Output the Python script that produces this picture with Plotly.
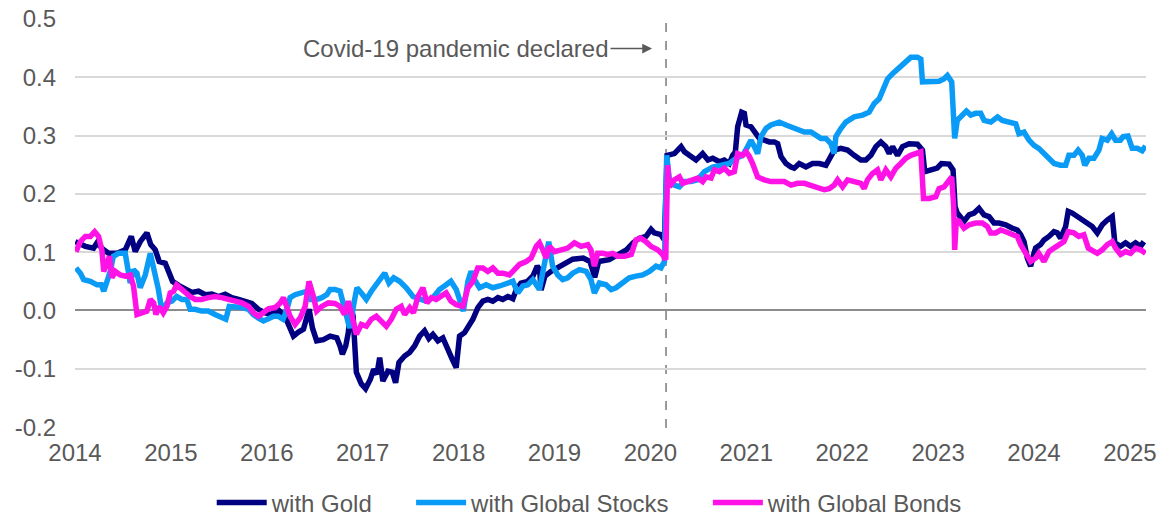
import plotly.graph_objects as go

# ---- data (decimal years, correlation values) ----
gold_x = [2014.003,2014.108,2014.194,2014.229,2014.299,2014.351,2014.438,2014.524,2014.587,2014.628,2014.680,2014.750,2014.790,2014.837,2014.878,2014.941,2014.983,2015.017,2015.080,2015.149,2015.219,2015.288,2015.358,2015.427,2015.497,2015.566,2015.635,2015.705,2015.774,2015.844,2015.913,2015.983,2016.052,2016.120,2016.190,2016.243,2016.278,2016.330,2016.382,2016.441,2016.476,2016.520,2016.590,2016.660,2016.730,2016.764,2016.788,2016.823,2016.850,2016.878,2016.900,2016.934,2016.986,2017.030,2017.080,2017.114,2017.149,2017.177,2017.210,2017.263,2017.309,2017.343,2017.378,2017.437,2017.489,2017.541,2017.593,2017.645,2017.690,2017.732,2017.784,2017.836,2017.888,2017.934,2017.975,2018.010,2018.062,2018.097,2018.149,2018.201,2018.253,2018.305,2018.357,2018.410,2018.460,2018.513,2018.566,2018.600,2018.650,2018.720,2018.775,2018.820,2018.845,2018.860,2018.900,2018.965,2019.050,2019.120,2019.190,2019.300,2019.370,2019.420,2019.460,2019.570,2019.680,2019.750,2019.820,2019.885,2019.955,2020.007,2020.040,2020.110,2020.146,2020.174,2020.250,2020.320,2020.355,2020.410,2020.476,2020.545,2020.600,2020.650,2020.720,2020.770,2020.823,2020.858,2020.886,2020.910,2020.952,2020.980,2020.997,2021.049,2021.084,2021.136,2021.188,2021.240,2021.292,2021.327,2021.362,2021.414,2021.466,2021.500,2021.552,2021.622,2021.691,2021.761,2021.830,2021.865,2021.917,2021.986,2022.056,2022.125,2022.195,2022.247,2022.299,2022.351,2022.403,2022.455,2022.490,2022.525,2022.577,2022.629,2022.698,2022.785,2022.837,2022.861,2022.924,2022.990,2023.035,2023.115,2023.156,2023.177,2023.200,2023.236,2023.270,2023.323,2023.375,2023.427,2023.479,2023.531,2023.583,2023.635,2023.705,2023.774,2023.826,2023.861,2023.896,2023.930,2023.965,2024.000,2024.017,2024.069,2024.104,2024.156,2024.208,2024.243,2024.278,2024.330,2024.357,2024.399,2024.451,2024.503,2024.555,2024.607,2024.660,2024.712,2024.764,2024.816,2024.843,2024.903,2024.955,2025.007,2025.059,2025.111,2025.146]
gold_y = [0.118,0.110,0.107,0.116,0.104,0.098,0.098,0.104,0.127,0.101,0.118,0.133,0.113,0.104,0.084,0.081,0.064,0.050,0.043,0.036,0.031,0.033,0.027,0.028,0.024,0.028,0.022,0.019,0.016,0.012,0.002,-0.004,-0.007,0.001,-0.010,-0.030,-0.044,-0.037,-0.032,0.002,-0.030,-0.052,-0.050,-0.044,-0.047,-0.061,-0.075,-0.061,-0.038,0.008,-0.010,-0.106,-0.126,-0.134,-0.118,-0.101,-0.109,-0.081,-0.121,-0.104,-0.106,-0.124,-0.089,-0.078,-0.072,-0.061,-0.044,-0.035,-0.048,-0.041,-0.052,-0.047,-0.064,-0.084,-0.098,-0.044,-0.038,-0.030,-0.015,0.005,0.016,0.019,0.016,0.022,0.019,0.024,0.020,0.035,0.047,0.050,0.059,0.076,0.070,0.035,0.059,0.067,0.075,0.084,0.088,0.090,0.084,0.057,0.084,0.087,0.096,0.104,0.116,0.124,0.127,0.139,0.133,0.130,0.121,0.266,0.269,0.281,0.272,0.266,0.258,0.269,0.258,0.261,0.255,0.258,0.252,0.266,0.272,0.315,0.340,0.338,0.318,0.315,0.306,0.295,0.292,0.289,0.289,0.286,0.264,0.252,0.246,0.244,0.252,0.246,0.252,0.252,0.249,0.261,0.275,0.278,0.275,0.266,0.258,0.258,0.266,0.281,0.289,0.281,0.269,0.281,0.266,0.281,0.286,0.285,0.275,0.238,0.240,0.244,0.252,0.251,0.241,0.178,0.167,0.161,0.153,0.164,0.167,0.175,0.164,0.161,0.150,0.150,0.147,0.141,0.138,0.130,0.118,0.090,0.076,0.098,0.107,0.113,0.121,0.127,0.135,0.133,0.124,0.144,0.170,0.167,0.161,0.155,0.150,0.144,0.133,0.147,0.155,0.161,0.116,0.110,0.116,0.110,0.116,0.110,0.118]

stocks_x = [2014.010,2014.056,2014.090,2014.160,2014.230,2014.274,2014.300,2014.333,2014.368,2014.400,2014.455,2014.524,2014.576,2014.610,2014.646,2014.680,2014.733,2014.785,2014.830,2014.870,2014.906,2014.958,2015.010,2015.060,2015.115,2015.167,2015.200,2015.250,2015.320,2015.390,2015.460,2015.530,2015.573,2015.608,2015.670,2015.740,2015.810,2015.860,2015.913,2015.965,2016.017,2016.070,2016.120,2016.170,2016.210,2016.243,2016.295,2016.365,2016.417,2016.460,2016.520,2016.573,2016.625,2016.660,2016.710,2016.764,2016.800,2016.864,2016.916,2016.940,2016.986,2017.038,2017.090,2017.142,2017.194,2017.229,2017.274,2017.323,2017.385,2017.454,2017.524,2017.593,2017.663,2017.732,2017.800,2017.871,2017.920,2017.975,2018.010,2018.050,2018.097,2018.130,2018.166,2018.218,2018.288,2018.357,2018.427,2018.496,2018.566,2018.618,2018.670,2018.722,2018.774,2018.843,2018.895,2018.940,2018.980,2019.034,2019.086,2019.138,2019.190,2019.260,2019.330,2019.380,2019.416,2019.468,2019.538,2019.590,2019.642,2019.710,2019.780,2019.850,2019.920,2019.990,2020.059,2020.110,2020.146,2020.170,2020.198,2020.250,2020.302,2020.354,2020.424,2020.493,2020.563,2020.650,2020.736,2020.823,2020.893,2020.962,2021.014,2021.049,2021.084,2021.118,2021.153,2021.205,2021.257,2021.344,2021.414,2021.466,2021.535,2021.605,2021.674,2021.743,2021.778,2021.830,2021.882,2021.917,2021.934,2021.986,2022.038,2022.125,2022.212,2022.281,2022.334,2022.386,2022.438,2022.473,2022.525,2022.594,2022.663,2022.715,2022.785,2022.820,2022.837,2022.906,2023.010,2023.060,2023.097,2023.142,2023.156,2023.173,2023.200,2023.253,2023.295,2023.340,2023.392,2023.444,2023.480,2023.550,2023.620,2023.670,2023.740,2023.810,2023.843,2023.896,2023.948,2024.000,2024.050,2024.104,2024.156,2024.210,2024.277,2024.330,2024.364,2024.416,2024.460,2024.503,2024.530,2024.573,2024.625,2024.677,2024.710,2024.764,2024.810,2024.850,2024.900,2024.930,2024.980,2025.024,2025.076,2025.128,2025.163]
stocks_y = [0.073,0.064,0.053,0.050,0.044,0.044,0.033,0.047,0.067,0.093,0.098,0.098,0.047,0.070,0.064,0.039,0.061,0.098,0.070,0.036,-0.001,0.013,0.016,0.024,0.019,0.019,0.002,0.002,-0.001,-0.001,-0.007,-0.013,-0.015,0.007,0.007,0.005,0.002,-0.007,-0.013,-0.018,-0.014,-0.010,-0.010,-0.015,0.002,0.022,0.027,0.030,0.033,0.019,0.019,0.022,0.027,0.036,0.036,0.033,0.007,-0.030,0.019,0.039,0.030,0.019,0.033,0.044,0.053,0.064,0.047,0.056,0.050,0.039,0.024,0.019,0.016,0.022,0.036,0.044,0.050,0.036,0.019,-0.001,0.050,0.067,0.053,0.039,0.044,0.039,0.042,0.047,0.050,0.030,0.042,0.044,0.053,0.036,0.076,0.118,0.076,0.061,0.053,0.056,0.064,0.070,0.067,0.053,0.030,0.047,0.044,0.036,0.039,0.047,0.056,0.059,0.061,0.067,0.076,0.073,0.084,0.266,0.224,0.215,0.212,0.221,0.221,0.224,0.238,0.246,0.249,0.252,0.261,0.266,0.281,0.292,0.281,0.269,0.298,0.312,0.318,0.323,0.318,0.315,0.312,0.306,0.306,0.300,0.295,0.295,0.286,0.269,0.298,0.312,0.323,0.332,0.335,0.340,0.355,0.363,0.386,0.397,0.406,0.417,0.426,0.434,0.434,0.431,0.392,0.392,0.393,0.397,0.403,0.392,0.349,0.295,0.326,0.335,0.342,0.335,0.338,0.338,0.326,0.323,0.332,0.326,0.323,0.320,0.303,0.306,0.292,0.283,0.278,0.269,0.258,0.252,0.249,0.249,0.266,0.266,0.275,0.266,0.249,0.261,0.261,0.275,0.295,0.292,0.303,0.292,0.292,0.298,0.299,0.278,0.278,0.274,0.282]

bonds_x = [2014.010,2014.056,2014.108,2014.160,2014.205,2014.246,2014.280,2014.300,2014.333,2014.360,2014.385,2014.420,2014.472,2014.524,2014.576,2014.610,2014.646,2014.700,2014.750,2014.785,2014.820,2014.844,2014.878,2014.920,2014.958,2014.993,2015.028,2015.060,2015.097,2015.149,2015.200,2015.253,2015.320,2015.390,2015.460,2015.530,2015.600,2015.670,2015.740,2015.810,2015.860,2015.913,2015.965,2016.017,2016.087,2016.140,2016.174,2016.210,2016.243,2016.295,2016.347,2016.400,2016.440,2016.486,2016.520,2016.573,2016.642,2016.710,2016.764,2016.810,2016.850,2016.934,2016.986,2017.038,2017.090,2017.142,2017.194,2017.246,2017.298,2017.350,2017.402,2017.437,2017.490,2017.530,2017.576,2017.628,2017.670,2017.715,2017.767,2017.820,2017.870,2017.920,2017.975,2018.045,2018.097,2018.149,2018.200,2018.253,2018.305,2018.357,2018.410,2018.460,2018.530,2018.583,2018.635,2018.705,2018.757,2018.810,2018.843,2018.878,2018.913,2018.948,2019.000,2019.070,2019.138,2019.208,2019.277,2019.347,2019.380,2019.416,2019.450,2019.503,2019.555,2019.607,2019.660,2019.730,2019.800,2019.850,2019.900,2019.954,2020.006,2020.076,2020.128,2020.160,2020.180,2020.198,2020.250,2020.302,2020.337,2020.389,2020.441,2020.493,2020.545,2020.580,2020.632,2020.667,2020.719,2020.771,2020.823,2020.875,2020.910,2020.962,2020.997,2021.032,2021.066,2021.118,2021.188,2021.257,2021.327,2021.396,2021.466,2021.535,2021.605,2021.674,2021.743,2021.813,2021.865,2021.917,2021.952,2022.004,2022.056,2022.125,2022.195,2022.229,2022.264,2022.316,2022.368,2022.403,2022.455,2022.507,2022.559,2022.611,2022.663,2022.715,2022.785,2022.820,2022.848,2022.906,2022.976,2023.010,2023.062,2023.097,2023.142,2023.163,2023.173,2023.190,2023.218,2023.270,2023.323,2023.392,2023.461,2023.514,2023.548,2023.600,2023.652,2023.705,2023.774,2023.826,2023.861,2023.896,2023.930,2023.965,2024.017,2024.050,2024.104,2024.156,2024.208,2024.260,2024.312,2024.357,2024.416,2024.468,2024.520,2024.566,2024.607,2024.660,2024.712,2024.764,2024.816,2024.850,2024.903,2024.955,2025.007,2025.060,2025.111,2025.163]
bonds_y = [0.101,0.118,0.127,0.127,0.135,0.127,0.104,0.067,0.081,0.093,0.056,0.067,0.061,0.059,0.061,0.042,-0.007,-0.004,-0.001,0.019,0.013,-0.007,0.007,-0.004,0.007,0.030,0.033,0.044,0.039,0.030,0.024,0.019,0.019,0.022,0.024,0.022,0.019,0.016,0.013,0.007,-0.004,-0.010,-0.004,0.003,0.005,0.013,0.022,0.007,-0.010,-0.024,-0.013,0.007,0.050,0.024,-0.001,0.007,0.013,0.012,0.007,-0.007,0.016,-0.041,-0.024,-0.027,-0.015,-0.010,-0.018,-0.027,-0.015,0.002,0.007,-0.007,0.005,-0.004,0.024,0.039,0.013,0.022,0.019,0.024,0.030,0.016,0.010,0.007,0.039,0.050,0.073,0.073,0.067,0.073,0.064,0.064,0.061,0.070,0.079,0.084,0.090,0.110,0.116,0.104,0.090,0.110,0.101,0.104,0.107,0.116,0.110,0.113,0.104,0.076,0.098,0.098,0.096,0.098,0.093,0.093,0.096,0.121,0.124,0.118,0.110,0.104,0.096,0.087,0.249,0.212,0.224,0.229,0.218,0.221,0.224,0.227,0.221,0.229,0.227,0.241,0.238,0.244,0.235,0.238,0.269,0.266,0.272,0.264,0.252,0.229,0.224,0.221,0.221,0.221,0.215,0.218,0.218,0.215,0.212,0.207,0.209,0.215,0.224,0.212,0.224,0.221,0.218,0.209,0.224,0.235,0.241,0.224,0.241,0.229,0.244,0.252,0.261,0.266,0.269,0.272,0.192,0.192,0.195,0.209,0.212,0.221,0.229,0.178,0.104,0.155,0.153,0.141,0.147,0.150,0.150,0.144,0.133,0.133,0.138,0.135,0.130,0.127,0.113,0.104,0.093,0.084,0.090,0.098,0.084,0.101,0.107,0.113,0.118,0.135,0.133,0.127,0.130,0.107,0.104,0.098,0.104,0.113,0.118,0.107,0.096,0.101,0.098,0.107,0.104,0.098]

series_names = ["with Gold", "with Global Stocks", "with Global Bonds"]
series_colors = ["#000080", "#0A9BF7", "#FF12E6"]

year_ticks = list(range(2014, 2026))
year_labels = [str(y) for y in year_ticks]
y_ticks = [-0.2, -0.1, 0.0, 0.1, 0.2, 0.3, 0.4, 0.5]
y_labels = ["-0.2", "-0.1", "0.0", "0.1", "0.2", "0.3", "0.4", "0.5"]

covid_year = 2020.163
annotation_text = "Covid-19 pandemic declared"

FONT = "Liberation Sans, Arial, sans-serif"
TXT = "#595959"
FS = 24
PAD = "\u00a0" * 5

fig = go.Figure()
for xs, ys, name, col in zip([gold_x, stocks_x, bonds_x], [gold_y, stocks_y, bonds_y],
                             series_names, series_colors):
    fig.add_trace(go.Scatter(x=xs, y=ys, mode="lines", name=name + PAD,
                             line=dict(color=col, width=5.5)))

fig.add_shape(type="line", xref="x", yref="paper", x0=covid_year, x1=covid_year,
              y0=0, y1=1, line=dict(color="#595959", width=1.2, dash="dash"), layer="below")

fig.add_annotation(x=covid_year, y=0.449, xref="x", yref="y", text=annotation_text,
                   showarrow=True, ax=-210, ay=0, axref="pixel", ayref="pixel",
                   arrowhead=2, arrowsize=1.3, arrowwidth=1.5, arrowcolor="#595959",
                   standoff=14, font=dict(family=FONT, size=FS, color=TXT))

fig.update_layout(
    width=1159, height=518,
    margin=dict(l=75, r=13, t=18, b=90, autoexpand=False),
    paper_bgcolor="white", plot_bgcolor="white",
    font=dict(family=FONT, size=FS, color=TXT),
    showlegend=True,
    legend=dict(orientation="h", x=0.496, xanchor="center", xref="paper",
                y=0.029, yanchor="middle", yref="container",
                font=dict(family=FONT, size=FS, color=TXT), itemwidth=50,
                tracegroupgap=0, bgcolor="rgba(0,0,0,0)"),
    xaxis=dict(range=[2014, 2025.168], tickmode="array", tickvals=year_ticks,
               ticktext=year_labels, showgrid=False, zeroline=False, showline=False,
               ticks="", ticklabelstandoff=8, automargin=False,
               tickfont=dict(size=FS, color=TXT)),
    yaxis=dict(range=[-0.2015, 0.5015], tickmode="array", tickvals=y_ticks,
               ticktext=y_labels, showgrid=True, gridcolor="#D9D9D9", gridwidth=1.5,
               zeroline=True, zerolinecolor="#8C8C8C", zerolinewidth=1.5,
               showline=False, ticks="", ticklabelstandoff=18, automargin=False,
               tickfont=dict(size=FS, color=TXT)),
)

fig.write_html("out.html", config={"displayModeBar": False},
               post_script="document.body.style.margin='0px';document.body.style.overflow='hidden';")
